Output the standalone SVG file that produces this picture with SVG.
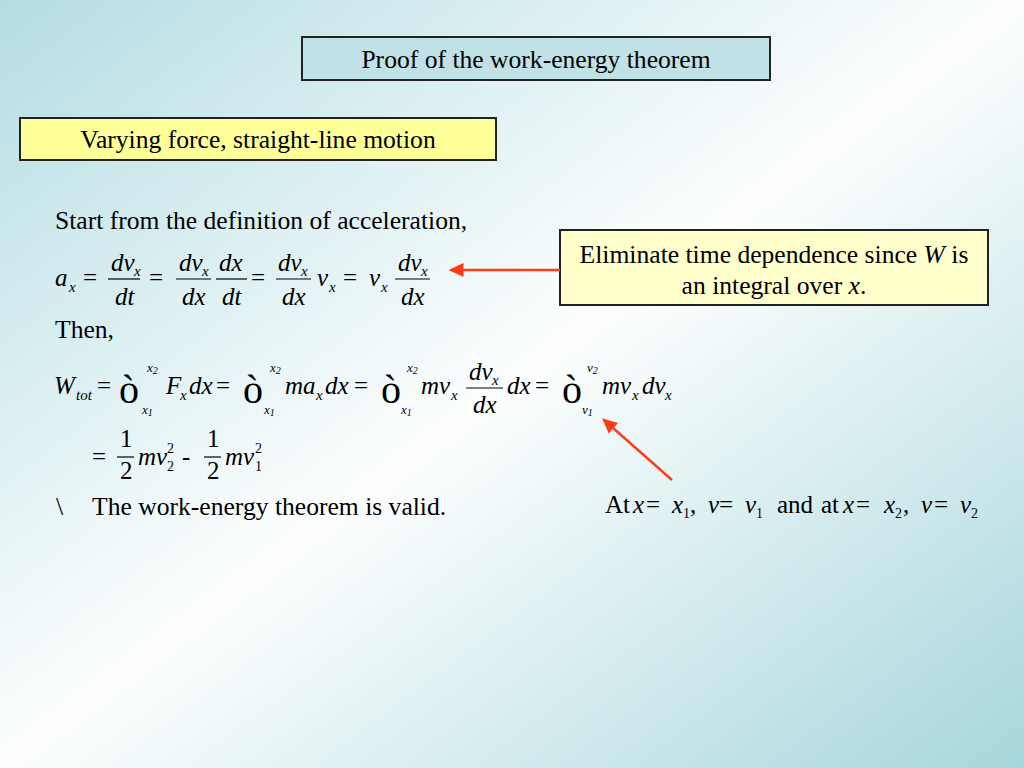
<svg xmlns="http://www.w3.org/2000/svg" width="1024" height="768" viewBox="0 0 1024 768">
<defs>
<linearGradient id="bg" x1="0" y1="0" x2="1" y2="1">
<stop offset="0" stop-color="#b4dde2"/>
<stop offset="0.5" stop-color="#fdfefe"/>
<stop offset="1" stop-color="#a6d6db"/>
</linearGradient>
<marker id="ah" markerWidth="6" markerHeight="5.6" refX="5" refY="2.8" orient="auto" markerUnits="strokeWidth">
<path d="M0,0 L6,2.8 L0,5.6 Z" fill="#ff3b1a"/>
</marker>
<style>
text{font-family:"Liberation Serif","Times New Roman",serif;fill:#000}
.t{font-size:25.6px}
.m{font-size:25px;font-style:italic}
.r{font-size:25px}
.s{font-size:15px;font-style:italic}
.sr{font-size:14px}
.l{font-size:13px;font-style:italic}
.lr{font-size:10px}
.i{font-size:40px}
.box{stroke:#222;stroke-width:2}
.fl{stroke:#000;stroke-width:1.2}
.arr{stroke:#ff3b1a;stroke-width:2.5;fill:none;marker-end:url(#ah)}
</style>
</defs>
<rect width="1024" height="768" fill="url(#bg)"/>

<g id="title">
<rect class="box" x="302" y="37" width="468" height="43" fill="#c0e1e5"/>
<text class="t" x="536" y="68" text-anchor="middle">Proof of the work-energy theorem</text>
</g>

<g id="subtitle">
<rect class="box" x="20" y="118" width="476" height="42" fill="#ffff99"/>
<text class="t" x="258" y="148" text-anchor="middle">Varying force, straight-line motion</text>
</g>

<g id="note">
<rect class="box" x="560" y="230" width="428" height="75" fill="#ffffcc"/>
<text class="t" x="774" y="263" text-anchor="middle">Eliminate time dependence since <tspan font-style="italic">W</tspan> is</text>
<text class="t" x="774" y="294" text-anchor="middle">an integral over <tspan font-style="italic">x</tspan>.</text>
</g>

<g id="intro">
<text class="t" x="55" y="229">Start from the definition of acceleration,</text>
<text class="t" x="55" y="338">Then,</text>
</g>

<g id="eq1">
<text class="m" x="55" y="286">a</text><text class="s" x="69" y="292">x</text>
<text class="r" x="83" y="286">=</text>
<text class="m" x="111" y="271">dv</text><text class="s" x="134" y="276">x</text>
<line class="fl" x1="108" y1="279" x2="140" y2="279"/>
<text class="m" x="115" y="305">dt</text>
<text class="r" x="149" y="286">=</text>
<text class="m" x="179" y="271">dv</text><text class="s" x="202" y="276">x</text>
<line class="fl" x1="176" y1="279" x2="211" y2="279"/>
<text class="m" x="182" y="305">dx</text>
<line class="fl" x1="216" y1="279" x2="247" y2="279"/>
<text class="m" x="219" y="271">dx</text>
<text class="m" x="222" y="305">dt</text>
<text class="r" x="251" y="286">=</text>
<text class="m" x="278" y="271">dv</text><text class="s" x="301" y="276">x</text>
<line class="fl" x1="276" y1="279" x2="311" y2="279"/>
<text class="m" x="282" y="305">dx</text>
<text class="m" x="317" y="286">v</text><text class="s" x="329" y="292">x</text>
<text class="r" x="343" y="286">=</text>
<text class="m" x="369" y="286">v</text><text class="s" x="381" y="292">x</text>
<text class="m" x="398" y="271">dv</text><text class="s" x="421" y="276">x</text>
<line class="fl" x1="395" y1="279" x2="430" y2="279"/>
<text class="m" x="401" y="305">dx</text>
</g>

<g id="eq2">
<text class="m" x="54" y="394">W</text><text class="s" x="76" y="400">tot</text>
<text class="r" x="97" y="394">=</text>
<text class="i" x="119" y="403">ò</text>
<text class="l" x="147" y="372">x<tspan class="lr" dy="2">2</tspan></text>
<text class="l" x="142" y="414">x<tspan class="lr" dy="2">1</tspan></text>
<text class="m" x="166" y="394">F</text><text class="s" x="180" y="400">x</text>
<text class="m" x="189" y="394">dx</text>
<text class="r" x="216" y="394">=</text>
<text class="i" x="243" y="403">ò</text>
<text class="l" x="270" y="372">x<tspan class="lr" dy="2">2</tspan></text>
<text class="l" x="264" y="414">x<tspan class="lr" dy="2">1</tspan></text>
<text class="m" x="285" y="394">ma</text><text class="s" x="316" y="400">x</text>
<text class="m" x="325" y="394">dx</text>
<text class="r" x="354" y="394">=</text>
<text class="i" x="381" y="403">ò</text>
<text class="l" x="407" y="372">x<tspan class="lr" dy="2">2</tspan></text>
<text class="l" x="401" y="414">x<tspan class="lr" dy="2">1</tspan></text>
<text class="m" x="421" y="394">mv</text><text class="s" x="451" y="400">x</text>
<text class="m" x="469" y="380">dv</text><text class="s" x="492" y="385">x</text>
<line class="fl" x1="466" y1="388" x2="503" y2="388"/>
<text class="m" x="473" y="413">dx</text>
<text class="m" x="507" y="394">dx</text>
<text class="r" x="535" y="394">=</text>
<text class="i" x="562" y="403">ò</text>
<text class="l" x="587" y="372">v<tspan class="lr" dy="2">2</tspan></text>
<text class="l" x="582" y="414">v<tspan class="lr" dy="2">1</tspan></text>
<text class="m" x="602" y="394">mv</text><text class="s" x="632" y="400">x</text>
<text class="m" x="642" y="394">dv</text><text class="s" x="665" y="400">x</text>
</g>

<g id="eq3">
<text class="r" x="92" y="465">=</text>
<text class="r" x="120" y="447">1</text>
<line class="fl" x1="117" y1="457" x2="134" y2="457"/>
<text class="r" x="120" y="479">2</text>
<text class="m" x="138" y="465">mv</text>
<text class="sr" x="167" y="453">2</text><text class="sr" x="167" y="471">2</text>
<text class="r" x="182" y="465">-</text>
<text class="r" x="207" y="447">1</text>
<line class="fl" x1="204" y1="457" x2="221" y2="457"/>
<text class="r" x="207" y="479">2</text>
<text class="m" x="225" y="465">mv</text>
<text class="sr" x="255" y="453">2</text><text class="sr" x="255" y="471">1</text>
</g>

<g id="conclusion">
<text class="t" x="56" y="515">\</text>
<text class="t" x="92" y="515">The work-energy theorem is valid.</text>
</g>

<g id="condition">
<text class="r" x="605" y="513">At</text>
<text class="m" x="633" y="513">x</text>
<text class="r" x="646" y="513">=</text>
<text class="m" x="672" y="513">x</text><text class="sr" x="683" y="518">1</text>
<text class="r" x="690" y="513">,</text>
<text class="m" x="708" y="513">v</text>
<text class="r" x="719" y="513">=</text>
<text class="m" x="745" y="513">v</text><text class="sr" x="756" y="518">1</text>
<text class="r" x="777" y="513">and</text>
<text class="r" x="821" y="513">at</text>
<text class="m" x="843" y="513">x</text>
<text class="r" x="856" y="513">=</text>
<text class="m" x="884" y="513">x</text><text class="sr" x="895" y="518">2</text>
<text class="r" x="903" y="513">,</text>
<text class="m" x="921" y="513">v</text>
<text class="r" x="934" y="513">=</text>
<text class="m" x="960" y="513">v</text><text class="sr" x="971" y="518">2</text>
</g>

<g id="connectors">
<line class="arr" x1="560" y1="270" x2="451" y2="270"/>
<line class="arr" x1="672" y1="480" x2="604" y2="420"/>
</g>
</svg>
